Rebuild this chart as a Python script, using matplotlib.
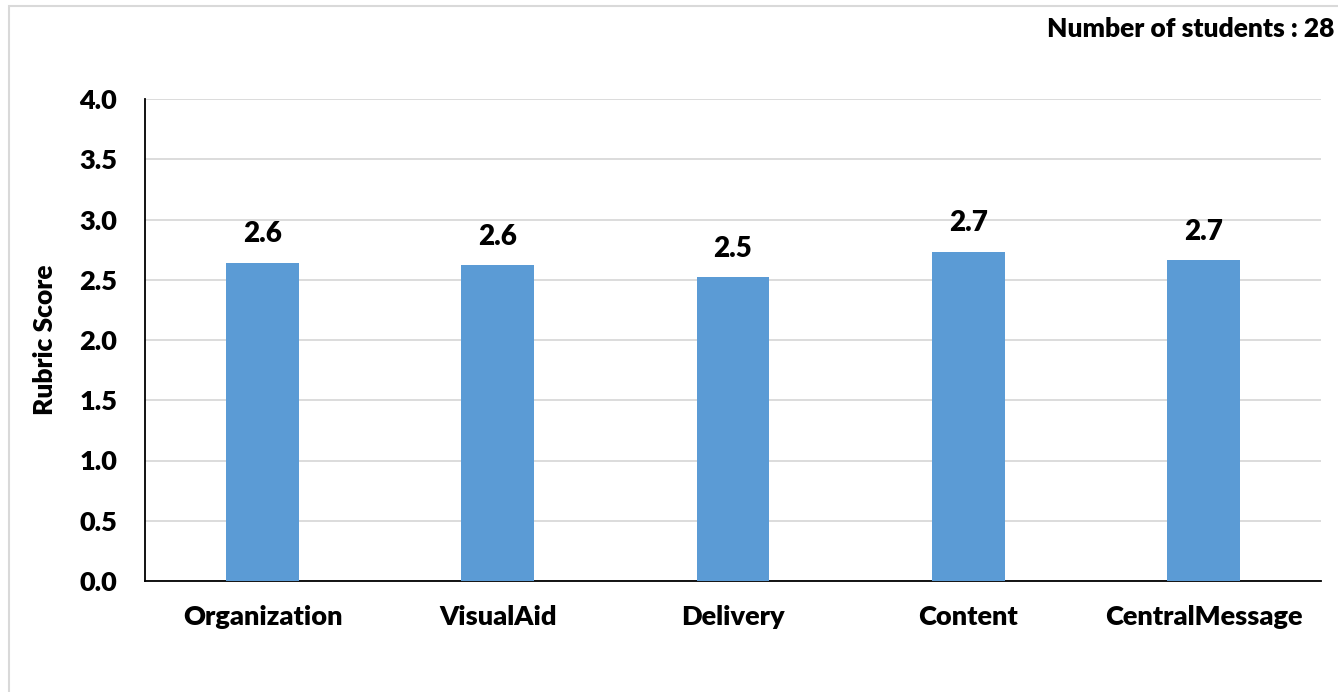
import matplotlib.pyplot as plt
from matplotlib.patches import Rectangle

categories = ['Organization', 'VisualAid', 'Delivery', 'Content', 'CentralMessage']
scores = [2.64, 2.62, 2.52, 2.73, 2.66]
n_students = 28

plt.rcParams['font.family'] = ['Lato', 'DejaVu Sans']
W = 'heavy'

fig = plt.figure(figsize=(13.38, 6.92), dpi=100)
# light outer frame of the chart area (runs off the right and bottom edges)
fig.patches.append(Rectangle((9 / 1338, -0.05), 1.2, 1 - 6 / 692 + 0.05,
                             transform=fig.transFigure, fill=False,
                             edgecolor='#d9d9d9', linewidth=1.5))

ax = fig.add_axes([145 / 1338, 1 - 581 / 692, (1321 - 145) / 1338, (581 - 99) / 692])
bars = ax.bar(categories, scores, width=0.31, color='#5b9bd5', zorder=3)
for b, v in zip(bars, scores):
    ax.text(b.get_x() + b.get_width() / 2, v + 0.13, '%.1f' % v,
            ha='center', va='bottom', fontsize=20, fontweight=W)

ax.set_xlim(-0.5, len(categories) - 0.5)
ax.set_ylim(0, 4.0)
ax.set_yticks([0, 0.5, 1.0, 1.5, 2.0, 2.5, 3.0, 3.5, 4.0])
ax.set_yticklabels(['%.1f' % t for t in ax.get_yticks()])
ax.yaxis.grid(True, color='#d9d9d9', linewidth=1.3, zorder=0)
ax.tick_params(axis='both', length=0, labelsize=19.5)
ax.tick_params(axis='y', pad=20)
ax.tick_params(axis='x', pad=17)
for lbl in ax.get_xticklabels() + ax.get_yticklabels():
    lbl.set_fontweight(W)
for s in ['top', 'right']:
    ax.spines[s].set_visible(False)
ax.spines['left'].set_linewidth(1.3)
ax.spines['bottom'].set_linewidth(1.3)
ax.set_ylabel('Rubric Score', fontsize=19, fontweight=W, labelpad=16)

fig.text(1334 / 1338, 1 - 29 / 692, 'Number of students : %d' % n_students,
         ha='right', va='center', fontsize=19, fontweight=W)

plt.savefig('out.png')
